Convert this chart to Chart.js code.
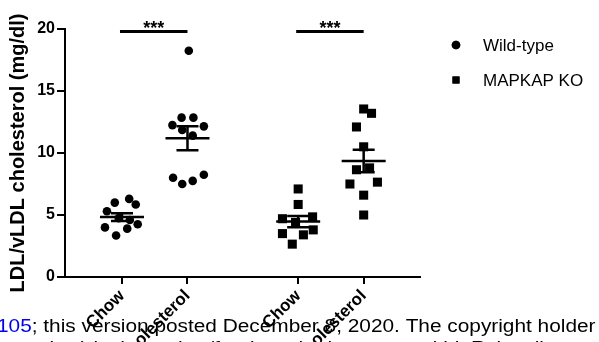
<!DOCTYPE html>
<html>
<head>
<meta charset="utf-8">
<script src="https://cdn.jsdelivr.net/npm/chart.js@4/dist/chart.umd.min.js"></script>
<style>
  html, body { margin: 0; padding: 0; background: #fff; overflow: hidden; }
  #wrap { width: 599px; height: 342px; position: relative; }
</style>
</head>
<body>
<div id="wrap"><canvas id="c" width="599" height="342"></canvas></div>
<script>
// Groups along the x axis
const groupLabels = ['Chow', 'Cholesterol', 'Chow', 'Cholesterol'];
const groupPos = [0.87, 1.87, 3.56, 4.56];
const seriesNames = ['Wild-type', 'MAPKAP KO'];

// LDL/vLDL cholesterol (mg/dl), one value per animal
const wtChow = [6.0, 6.3, 5.85, 5.3, 4.75, 4.6, 4.25, 4.0, 3.9, 3.35];
const wtChol = [18.25, 12.85, 12.85, 12.25, 12.15, 11.85, 11.4, 8.0, 7.5, 7.75, 8.25];
const koChow = [7.1, 5.85, 4.7, 4.85, 4.4, 3.5, 3.4, 3.8, 2.65];
const koChol = [13.55, 13.2, 12.1, 10.5, 8.65, 8.8, 7.5, 7.65, 6.6, 5.0];

// Horizontal spread of the dots inside each group (x-axis units)
const wtChowSpread = [-0.11, 0.11, 0.21, -0.23, -0.05, 0.12, 0.24, -0.26, 0.08, -0.09];
const wtCholSpread = [0.02, -0.09, 0.09, -0.23, 0.25, -0.08, 0.08, -0.22, -0.08, 0.08, 0.25];
const koChowSpread = [0.0, 0.0, -0.24, 0.22, -0.04, -0.24, 0.08, 0.23, -0.09];
const koCholSpread = [0.0, 0.12, -0.11, 0.0, -0.11, 0.09, -0.21, 0.21, 0.0, 0.0];

// Significance brackets: [from group, to group, label]
const sigPairs = [[0, 1, '***'], [2, 3, '***']];
const sigLevel = 19.8;

const yTicks = [0, 5, 10, 15, 20];

const FONT = "'Liberation Sans', Arial, Helvetica, sans-serif";

function toPoints(values, spread, g) {
  return values.map((v, i) => ({ x: groupPos[g] + spread[i], y: v, g }));
}

const groups = [
  { values: wtChow, g: 0 },
  { values: wtChol, g: 1 },
  { values: koChow, g: 2 },
  { values: koChol, g: 3 }
];

// Mean ± SEM bars for every group
const meanSemPlugin = {
  id: 'meanSem',
  afterDatasetsDraw(chart) {
    const { ctx, scales: { x, y } } = chart;
    ctx.save();
    ctx.strokeStyle = '#000';
    ctx.lineWidth = 2.5;
    ctx.lineCap = 'butt';
    groups.forEach(({ values, g }) => {
      const n = values.length;
      const mean = values.reduce((a, b) => a + b, 0) / n;
      const sd = Math.sqrt(values.reduce((a, b) => a + (b - mean) ** 2, 0) / (n - 1));
      const sem = sd / Math.sqrt(n);
      const cx = x.getPixelForValue(groupPos[g]);
      const ym = y.getPixelForValue(mean);
      const yh = y.getPixelForValue(mean + sem);
      const yl = y.getPixelForValue(mean - sem);
      ctx.beginPath();
      ctx.moveTo(cx - 22, ym); ctx.lineTo(cx + 22, ym);
      ctx.moveTo(cx, yh); ctx.lineTo(cx, yl);
      ctx.moveTo(cx - 11, yh); ctx.lineTo(cx + 11, yh);
      ctx.moveTo(cx - 11, yl); ctx.lineTo(cx + 11, yl);
      ctx.stroke();
    });
    ctx.restore();
  }
};

// Significance lines with stars
const sigPlugin = {
  id: 'sig',
  afterDraw(chart) {
    const { ctx, scales: { x, y } } = chart;
    ctx.save();
    ctx.strokeStyle = '#000';
    ctx.fillStyle = '#000';
    ctx.lineWidth = 3;
    const yy = y.getPixelForValue(sigLevel);
    sigPairs.forEach(([a, b, label]) => {
      const x1 = x.getPixelForValue(groupPos[a]) - 2;
      const x2 = x.getPixelForValue(groupPos[b]);
      ctx.beginPath();
      ctx.moveTo(x1, yy); ctx.lineTo(x2, yy);
      ctx.stroke();
      ctx.font = 'bold 18px ' + FONT;
      ctx.textAlign = 'center';
      ctx.textBaseline = 'alphabetic';
      ctx.fillText(label, (x1 + x2) / 2, yy + 3);
    });
    ctx.restore();
  }
};

// Legend with dot / square markers
const legendPlugin = {
  id: 'sideLegend',
  afterDraw(chart) {
    const { ctx, chartArea } = chart;
    const mx = chartArea.right + 36;
    const tx = chartArea.right + 63;
    const rows = [45, 80];
    ctx.save();
    ctx.fillStyle = '#000';
    ctx.font = '17px ' + FONT;
    ctx.textAlign = 'left';
    ctx.textBaseline = 'middle';
    chart.data.datasets.forEach((ds, i) => {
      Chart.helpers.drawPoint(ctx, {
        pointStyle: ds.pointStyle,
        radius: i === 0 ? 4.3 : 5,
        borderWidth: 0
      }, mx, rows[i]);
      ctx.fill();
      ctx.fillText(ds.label, tx, rows[i] + 1);
    });
    ctx.restore();
  }
};

// Preprint footer line across the bottom of the figure
const footerPlugin = {
  id: 'footer',
  afterDraw(chart) {
    const { ctx } = chart;
    ctx.save();
    ctx.font = '17.5px ' + FONT;
    ctx.textBaseline = 'alphabetic';
    ctx.textAlign = 'left';
    ctx.translate(-3, 332);
    ctx.scale(1.19, 1);
    const blue = '105';
    ctx.fillStyle = '#0000ee';
    ctx.fillText(blue, 0, 0);
    const w = ctx.measureText(blue).width;
    ctx.fillStyle = '#000';
    ctx.fillText('; this version posted December 8, 2020. The copyright holder for this preprint', w, 0);
    ctx.fillText('peer review) is the author/funder, who has granted bioRxiv a license to display the preprint', -20, 22);
    ctx.restore();
  }
};

new Chart(document.getElementById('c'), {
  type: 'scatter',
  data: {
    datasets: [
      {
        label: seriesNames[0],
        data: [...toPoints(wtChow, wtChowSpread, 0), ...toPoints(wtChol, wtCholSpread, 1)],
        pointStyle: 'circle',
        pointRadius: 4.3,
        backgroundColor: '#000',
        borderColor: '#000',
        borderWidth: 0
      },
      {
        label: seriesNames[1],
        data: [...toPoints(koChow, koChowSpread, 2), ...toPoints(koChol, koCholSpread, 3)],
        pointStyle: 'rect',
        pointRadius: 6.4,
        backgroundColor: '#000',
        borderColor: '#000',
        borderWidth: 0
      }
    ]
  },
  options: {
    responsive: false,
    animation: false,
    devicePixelRatio: 1,
    layout: { padding: { top: 29, right: 179, left: 0, bottom: 0 } },
    plugins: {
      legend: { display: false },
      tooltip: { enabled: false }
    },
    scales: {
      x: {
        type: 'linear',
        min: 0,
        max: 5.42,
        afterBuildTicks(scale) { scale.ticks = groupPos.map(v => ({ value: v })); },
        afterFit(scale) { scale.height = 65; },
        grid: { drawOnChartArea: false, drawTicks: true, tickLength: 7, color: '#000', lineWidth: 2 },
        border: { color: '#000', width: 2 },
        ticks: {
          autoSkip: false,
          maxRotation: 45,
          minRotation: 45,
          padding: 2,
          color: '#000',
          font: { family: FONT, size: 17, weight: 'bold' },
          callback: (v, i) => groupLabels[i]
        }
      },
      y: {
        min: 0,
        max: 20,
        afterBuildTicks(scale) { scale.ticks = yTicks.map(v => ({ value: v })); },
        afterFit(scale) { scale.width = 65; },
        grid: { drawOnChartArea: false, drawTicks: true, tickLength: 8, color: '#000', lineWidth: 2 },
        border: { color: '#000', width: 2 },
        ticks: {
          padding: 2,
          color: '#000',
          font: { family: FONT, size: 16, weight: 'bold' }
        },
        title: {
          display: true,
          text: 'LDL/vLDL cholesterol (mg/dl)',
          color: '#000',
          padding: { top: 6, bottom: 0 },
          font: { family: FONT, size: 20, weight: 'bold' }
        }
      }
    }
  },
  plugins: [meanSemPlugin, sigPlugin, legendPlugin, footerPlugin]
});
</script>
</body>
</html>
